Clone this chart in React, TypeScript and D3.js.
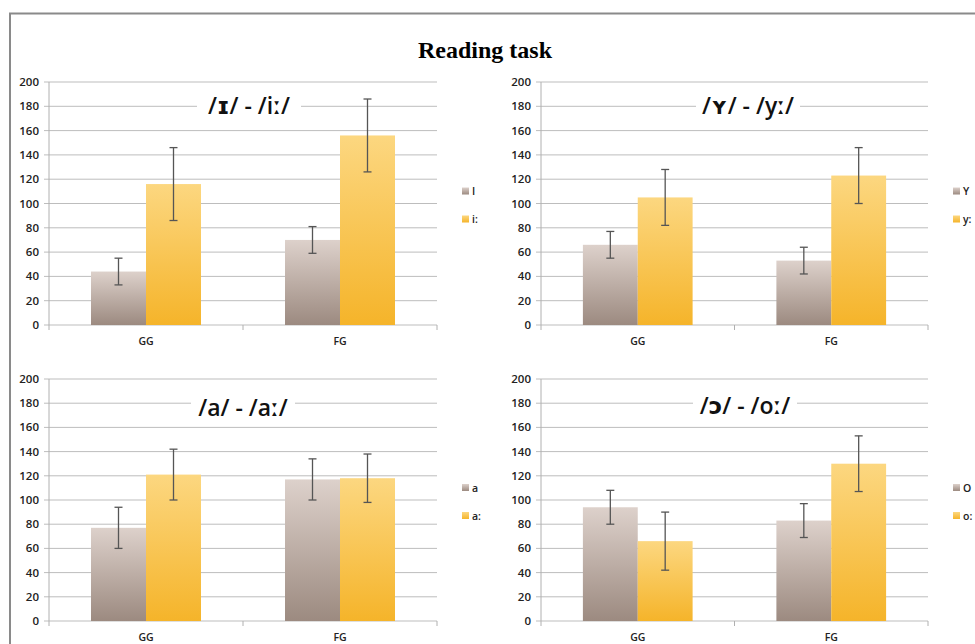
import React from "react";
import * as d3 from "d3";

const groups = ["GG", "FG"];
const panelTitles = ["/ɪ/ - /iː/", "/ʏ/ - /yː/", "/a/ - /aː/", "/ɔ/ - /oː/"];
const shortLabels = ["I", "Y", "a", "O"];
const longLabels = ["i:", "y:", "a:", "o:"];
const shortMeans = [[44, 70], [66, 53], [77, 117], [94, 83]];
const shortErr = [[11, 11], [11, 11], [17, 17], [14, 14]];
const longMeans = [[116, 156], [105, 123], [121, 118], [66, 130]];
const longErr = [[30, 30], [23, 23], [21, 20], [24, 23]];
const yTicks = [0, 20, 40, 60, 80, 100, 120, 140, 160, 180, 200];

const panels = [
  { x0: 49, x1: 437, y0: 82, y1: 325, tx: 249, ty: 106, lx: 462 },
  { x0: 541, x1: 928, y0: 82, y1: 325, tx: 748, ty: 106, lx: 953 },
  { x0: 49, x1: 437, y0: 379, y1: 621, tx: 243, ty: 408, lx: 462 },
  { x0: 541, x1: 928, y0: 379, y1: 621, tx: 745, ty: 406, lx: 953 },
];

const font = "'Open Sans', 'DejaVu Sans', sans-serif";

function Panel({ i }: { i: number }) {
  const p = panels[i];
  const y = d3.scaleLinear().domain([0, 200]).range([p.y1, p.y0]);
  const x0 = d3
    .scaleBand<string>()
    .domain(groups)
    .range([p.x0, p.x1])
    .paddingInner(0.433)
    .paddingOuter(0.2165);
  const series = [
    { key: shortLabels[i], means: shortMeans[i], errs: shortErr[i], grad: "gGrey" },
    { key: longLabels[i], means: longMeans[i], errs: longErr[i], grad: "gYellow" },
  ];
  const x1 = d3
    .scaleBand<string>()
    .domain(series.map((s) => s.key))
    .range([0, x0.bandwidth()]);
  const step = (p.x1 - p.x0) / groups.length;
  const titleW = 104;
  const legY = (p.y0 + p.y1) / 2;
  return (
    <g>
      {yTicks.map((t) => (
        <g key={t}>
          <line x1={p.x0 - 5} x2={p.x1} y1={y(t)} y2={y(t)} stroke="#bdbdbd" strokeWidth={1} />
          <text
            x={p.x0 - 10}
            y={y(t)}
            dy="0.35em"
            textAnchor="end"
            fontSize={11.5}
            fontWeight={600}
            fontFamily={font}
            fill="#222"
          >
            {t}
          </text>
        </g>
      ))}
      <line x1={p.x0} x2={p.x0} y1={p.y0} y2={p.y1} stroke="#b0b0b0" strokeWidth={1} />
      {[0, 1, 2].map((k) => (
        <line
          key={k}
          x1={p.x0 + k * step}
          x2={p.x0 + k * step}
          y1={p.y1}
          y2={p.y1 + 5}
          stroke="#b0b0b0"
        />
      ))}
      {groups.map((g, gi) => (
        <g key={g}>
          {series.map((s) => {
            const bx = (x0(g) as number) + (x1(s.key) as number);
            const bw = x1.bandwidth();
            const m = s.means[gi];
            const e = s.errs[gi];
            const cx = bx + bw / 2;
            return (
              <g key={s.key}>
                <rect x={bx} y={y(m)} width={bw} height={y(0) - y(m)} fill={`url(#${s.grad})`} />
                <line x1={cx} x2={cx} y1={y(m + e)} y2={y(m - e)} stroke="#555" strokeWidth={1.3} />
                <line x1={cx - 4} x2={cx + 4} y1={y(m + e)} y2={y(m + e)} stroke="#555" strokeWidth={1.3} />
                <line x1={cx - 4} x2={cx + 4} y1={y(m - e)} y2={y(m - e)} stroke="#555" strokeWidth={1.3} />
              </g>
            );
          })}
          <text
            x={(x0(g) as number) + x0.bandwidth() / 2}
            y={p.y1 + 20}
            textAnchor="middle"
            fontSize={10.5}
            fontWeight={600}
            fontFamily={font}
            fill="#222"
          >
            {g}
          </text>
        </g>
      ))}
      <rect x={p.tx - titleW / 2} y={p.ty - 15} width={titleW} height={30} fill="#fff" />
      <text
        x={p.tx}
        y={p.ty}
        dy="0.35em"
        textAnchor="middle"
        fontSize={23}
        fontWeight={600}
        fontFamily={font}
        fill="#111"
      >
        {panelTitles[i]}
      </text>
      {series.map((s, si) => (
        <g key={s.key}>
          <rect x={p.lx} y={legY - 12 + si * 28 - 4} width={7} height={7} fill={`url(#${s.grad})`} />
          <text
            x={p.lx + 10}
            y={legY - 12 + si * 28}
            dy="0.35em"
            fontSize={10.5}
            fontWeight={600}
            fontFamily={font}
            fill="#222"
          >
            {s.key}
          </text>
        </g>
      ))}
    </g>
  );
}

export default function App() {
  return (
    <svg
      width={975}
      height={644}
      style={{ position: "absolute", left: 0, top: 0, background: "#fff" }}
    >
      <defs>
        <linearGradient id="gGrey" x1="0" y1="0" x2="0" y2="1">
          <stop offset="0%" stopColor="#ddd1cb" />
          <stop offset="100%" stopColor="#9c8a80" />
        </linearGradient>
        <linearGradient id="gYellow" x1="0" y1="0" x2="0" y2="1">
          <stop offset="0%" stopColor="#fcd780" />
          <stop offset="100%" stopColor="#f5b42a" />
        </linearGradient>
      </defs>
      <rect x={0} y={0} width={975} height={644} fill="#fff" />
      <rect x={10} y={13.5} width={1000} height={700} fill="none" stroke="#8a8a8a" strokeWidth={2} />
      <text
        x={485}
        y={50}
        dy="0.35em"
        textAnchor="middle"
        fontSize={24}
        fontWeight="bold"
        fontFamily="'Liberation Serif', 'DejaVu Serif', serif"
        fill="#000"
      >
        Reading task
      </text>
      {panels.map((_, i) => (
        <Panel key={i} i={i} />
      ))}
    </svg>
  );
}
